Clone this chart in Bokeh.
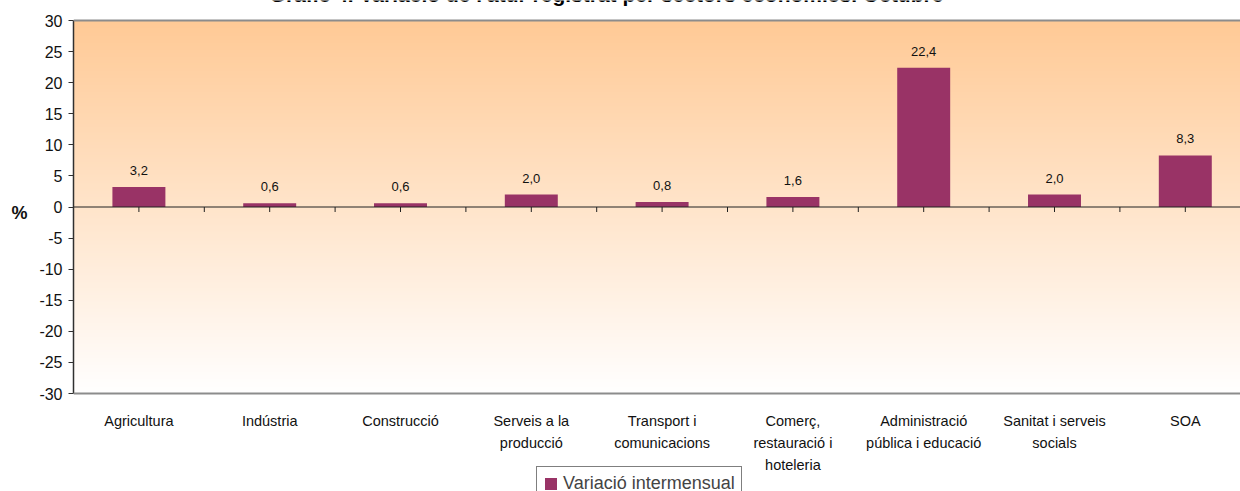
import numpy as np
from bokeh.plotting import figure
from bokeh.models import (ColumnDataSource, FixedTicker, Span, Legend, LegendItem,
                          Label, LabelSet, LinearAxis)
from bokeh.core.properties import value
from bokeh.embed import file_html
from bokeh.resources import INLINE

# ---- data ----
categories = ["Agricultura", "Indústria", "Construcció", "Serveis a la producció",
              "Transport i comunicacions", "Comerç, restauració i hoteleria",
              "Administració pública i educació", "Sanitat i serveis socials", "SOA"]
tick_labels = ["Agricultura", "Indústria", "Construcció", "Serveis a la\nproducció",
               "Transport i\ncomunicacions", "Comerç,\nrestauració i\nhoteleria",
               "Administració\npública i educació", "Sanitat i serveis\nsocials", "SOA"]
values = [3.2, 0.6, 0.6, 2.0, 0.8, 1.6, 22.4, 2.0, 8.3]
series_name = "Variació intermensual"
y_ticks = list(range(-30, 31, 5))
y_tick_labels = [str(t) for t in y_ticks]
y_unit = "%"
title_text = "Gràfic 4. Variació de l'atur registrat per sectors econòmics. Octubre"

FONT = "Liberation Sans"
BAR = "#993366"

# ---- layout constants (pixels) ----
W, H = 1240, 491
LEFT = 73            # left edge of plot area
PLOT_TOP, PLOT_BOT = 20, 393   # pixel rows of y=30 and y=-30
Y0, Y1 = -30, 30
CAT_PX = 130.8
px_per_y = (PLOT_BOT - PLOT_TOP) / (Y1 - Y0)
y_top = Y1 + PLOT_TOP / px_per_y
y_bot = Y0 - (H - PLOT_BOT) / px_per_y
x_lo = -0.5
x_hi = x_lo + (W - LEFT) / CAT_PX

xs = list(range(len(categories)))
src = ColumnDataSource(dict(x=xs, top=values, cat=categories,
                            lab=[f"{v:.1f}".replace(".", ",") for v in values]))

p = figure(width=W, height=H, x_range=(x_lo, x_hi), y_range=(y_bot, y_top),
           output_backend="svg", toolbar_location=None,
           min_border_left=LEFT, min_border_right=0, min_border_top=0,
           min_border_bottom=0)
p.background_fill_color = "white"
p.border_fill_color = "white"
p.outline_line_color = None

# gradient background of the plot area (orange top -> white bottom)
n = 256
t = np.linspace(0, 1, n)[:, None]
top_c = np.array([255, 202, 150])
bot_c = np.array([255, 255, 255])
cols = (bot_c + (top_c - bot_c) * t).astype(np.uint32)
img = np.empty((n, 1), dtype=np.uint32)
view = img.view(dtype=np.uint8).reshape((n, 1, 4))
view[:, 0, 0] = cols[:, 0]
view[:, 0, 1] = cols[:, 1]
view[:, 0, 2] = cols[:, 2]
view[:, 0, 3] = 255
p.image_rgba(image=[img], x=x_lo, y=Y0, dw=x_hi - x_lo, dh=Y1 - Y0)

# grid
p.xgrid.visible = False
p.ygrid.ticker = FixedTicker(ticks=y_ticks[1:-1])
p.ygrid.grid_line_color = "#8c8c8c"
p.ygrid.grid_line_width = 1
for edge in (Y0, Y1):
    p.add_layout(Span(location=edge, dimension="width", line_color="#8c8c8c", line_width=2))

# bars
bars = p.vbar(x="x", top="top", bottom=0, width=0.405, source=src,
              fill_color=BAR, line_color=None)

# zero line with category tick marks
p.add_layout(Span(location=0, dimension="width", line_color="#202020", line_width=1))
tick_pos = [i * 0.5 for i in range(0, 2 * len(categories) + 1)]
tick_len = 5 / px_per_y
p.segment(x0=tick_pos, x1=tick_pos, y0=[0] * len(tick_pos), y1=[-tick_len] * len(tick_pos),
          line_color="#202020", line_width=1)

# value labels
p.add_layout(LabelSet(x="x", y="top", text="lab", source=src, text_align="center",
                      text_baseline="alphabetic", y_offset=12, text_font=value(FONT),
                      text_font_size="13px", text_color="#111111"))

# y axis
p.yaxis.ticker = FixedTicker(ticks=y_ticks)
p.yaxis.bounds = (Y0, Y1)
p.yaxis.major_label_overrides = {t: s for t, s in zip(y_ticks, y_tick_labels)}
p.yaxis.major_label_text_font = FONT
p.yaxis.major_label_text_font_size = "16px"
p.yaxis.major_label_text_color = "#111111"
p.yaxis.major_tick_out = 5
p.yaxis.major_tick_in = 0
p.yaxis.minor_tick_out = 0
p.yaxis.minor_tick_in = 0
p.yaxis.axis_line_color = "#303030"
p.yaxis.axis_line_width = 1.5
p.yaxis.major_tick_line_color = "#303030"
p.yaxis.major_label_standoff = 6

# "%" unit label as an outer axis
unit_axis = LinearAxis(ticker=FixedTicker(ticks=[-1]), major_label_overrides={-1: y_unit},
                       axis_line_color=None, major_tick_line_color=None,
                       minor_tick_line_color=None, major_label_standoff=3,
                       major_label_text_font=FONT, major_label_text_font_style="bold",
                       major_label_text_font_size="18px", major_label_text_color="#111111")
p.add_layout(unit_axis, "left")

# category axis: labels below the -30 line
p.xaxis.fixed_location = Y0
p.xaxis.ticker = FixedTicker(ticks=xs)
p.xaxis.major_label_overrides = {i: lab for i, lab in zip(xs, tick_labels)}
p.xaxis.major_label_text_font = FONT
p.xaxis.major_label_text_font_size = "14.5px"
p.xaxis.major_label_text_color = "#111111"
p.xaxis.major_label_text_line_height = 1.375
p.xaxis.axis_line_color = None
p.xaxis.major_tick_line_color = None
p.xaxis.minor_tick_line_color = None
p.xaxis.major_label_standoff = 13

# title (cut by the top edge, as in the reference)
title_cx = x_lo + (606 - LEFT) / CAT_PX
title_y = Y1 + (PLOT_TOP + 6) / px_per_y
p.add_layout(Label(x=title_cx, y=title_y, text=title_text, text_align="center",
                   text_baseline="alphabetic", text_font=FONT, text_font_style="bold",
                   text_font_size="21px", text_color="black"))

# legend (cut by the bottom edge, as in the reference)
legend = Legend(items=[LegendItem(label=series_name, renderers=[bars])],
                location=(463, -10), orientation="horizontal",
                label_text_font=FONT, label_text_font_size="18px",
                glyph_width=15, glyph_height=15, padding=6, margin=0,
                border_line_color="black", border_line_width=1,
                background_fill_color="white", background_fill_alpha=1,
                label_standoff=5)
p.add_layout(legend, "center")

open("out.html", "w").write(file_html(p, INLINE))
